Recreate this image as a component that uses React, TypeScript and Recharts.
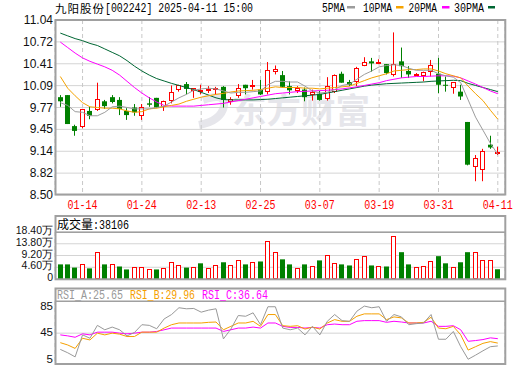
import React from 'react';
import { ComposedChart, Bar, Line, XAxis, YAxis, CartesianGrid, ReferenceLine } from 'recharts';

// trading days shown (MM-DD)
const dates = [
  '01-09', '01-10', '01-13', '01-14', '01-15', '01-16', '01-17', '01-20', '01-21', '01-22',
  '01-23', '01-24', '01-27', '02-05', '02-06', '02-07', '02-10', '02-11', '02-12', '02-13',
  '02-14', '02-17', '02-18', '02-19', '02-20', '02-21', '02-24', '02-25', '02-26', '02-27',
  '02-28', '03-03', '03-04', '03-05', '03-06', '03-07', '03-10', '03-11', '03-12', '03-13',
  '03-14', '03-17', '03-18', '03-19', '03-20', '03-21', '03-24', '03-25', '03-26', '03-27',
  '03-28', '03-31', '04-01', '04-02', '04-03', '04-07', '04-08', '04-09', '04-10', '04-11',
];

const opens = [
  9.92, 9.95, 9.5, 9.49, 9.72, 9.74, 9.86, 9.92, 9.88, 9.72,
  9.77, 9.65, 9.83, 9.91, 9.78, 9.87, 10.02, 10.11, 10.01, 10.02,
  10.01, 10.02, 10.07, 9.85, 9.93, 10.1, 10.09, 10.03, 10.0, 10.28,
  10.24, 10.08, 10.01, 10.03, 9.95, 9.97, 9.89, 10.0, 10.26, 10.14,
  10.14, 10.37, 10.44, 10.42, 10.4, 10.24, 10.44, 10.3, 10.25, 10.22,
  10.28, 10.26, 10.1, 10.05, 10.0, 9.56, 8.91, 8.86, 9.23, 9.12,
];
const highs = [
  9.95, 9.95, 9.52, 9.75, 9.78, 10.13, 9.88, 9.95, 9.92, 9.76,
  9.82, 9.82, 9.92, 9.91, 9.87, 10.09, 10.1, 10.14, 10.05, 10.1,
  10.08, 10.07, 10.08, 9.92, 10.11, 10.1, 10.17, 10.17, 10.43, 10.38,
  10.3, 10.15, 10.08, 10.06, 10.03, 10.01, 10.21, 10.25, 10.29, 10.17,
  10.36, 10.5, 10.49, 10.47, 10.4, 10.86, 10.64, 10.37, 10.27, 10.29,
  10.46, 10.49, 10.22, 10.14, 10.1, 9.56, 9.08, 9.17, 9.36, 9.2,
];
const lows = [
  9.78, 9.53, 9.36, 9.47, 9.6, 9.72, 9.75, 9.83, 9.66, 9.59,
  9.65, 9.59, 9.78, 9.76, 9.72, 9.83, 10.0, 9.96, 9.91, 9.96,
  9.98, 9.96, 9.77, 9.81, 9.91, 9.96, 10.03, 9.95, 9.96, 10.25,
  10.06, 9.96, 9.98, 9.86, 9.87, 9.87, 9.87, 9.98, 10.13, 10.08,
  10.08, 10.37, 10.29, 10.4, 10.25, 10.22, 10.2, 10.2, 10.23, 10.15,
  10.22, 9.98, 10.0, 9.97, 9.88, 8.93, 8.7, 8.7, 9.17, 9.08,
];
const closes = [
  9.86, 9.53, 9.43, 9.75, 9.65, 9.89, 9.79, 9.85, 9.75, 9.66,
  9.7, 9.78, 9.81, 9.77, 9.87, 10.0, 10.09, 10.04, 10.05, 10.03,
  10.04, 10.05, 9.88, 9.9, 10.06, 10.05, 10.1, 9.96, 10.31, 10.33,
  10.07, 10.02, 10.05, 9.92, 10.0, 9.88, 10.08, 10.24, 10.13, 10.1,
  10.34, 10.43, 10.41, 10.43, 10.27, 10.4, 10.37, 10.25, 10.26, 10.29,
  10.39, 10.1, 10.09, 10.14, 9.93, 8.94, 9.04, 9.14, 9.19, 9.13,
];

// volume in lots (手)
const volumes = [
  57200, 57200, 44700, 59800, 41600, 107600, 57200, 59800, 48900, 37400,
  47800, 47800, 37400, 37400, 41600, 67600, 53000, 44700, 48900, 61400,
  43700, 56200, 65500, 56200, 75900, 57200, 66600, 68600, 147700, 104000,
  77000, 57200, 43700, 57200, 52000, 72800, 95700, 63400, 57200, 53000,
  80100, 91500, 53000, 52000, 48900, 167400, 105000, 57200, 47800, 52000,
  68600, 89400, 61400, 47800, 65500, 105000, 107600, 75900, 75900, 38106,
];

const ma5 = [
  9.84, 9.8, 9.71, 9.7, 9.65, 9.65, 9.7, 9.78, 9.79, 9.77,
  9.75, 9.75, 9.75, 9.77, 9.79, 9.85, 9.91, 9.96, 10.02, 10.04,
  10.05, 10.04, 10.01, 9.98, 9.99, 9.99, 10.0, 10.01, 10.1, 10.15,
  10.15, 10.14, 10.14, 10.08, 10.01, 9.98, 9.99, 10.03, 10.09, 10.11,
  10.18, 10.25, 10.3, 10.36, 10.38, 10.39, 10.38, 10.34, 10.31, 10.31,
  10.31, 10.26, 10.23, 10.21, 10.13, 9.88, 9.63, 9.44, 9.25, 9.09,
];
const ma10 = [
  10.22, 10.05, 9.94, 9.84, 9.78, 9.77, 9.76, 9.76, 9.75, 9.72,
  9.7, 9.71, 9.75, 9.76, 9.78, 9.8, 9.82, 9.86, 9.89, 9.92,
  9.94, 9.96, 9.975, 9.995, 10.01, 10.015, 10.02, 10.03, 10.05, 10.07,
  10.06, 10.06, 10.06, 10.05, 10.05, 10.04, 10.05, 10.06, 10.07, 10.08,
  10.12, 10.16, 10.2, 10.23, 10.26, 10.3, 10.31, 10.32, 10.32, 10.33,
  10.33, 10.3, 10.26, 10.23, 10.2, 10.08, 9.97, 9.87, 9.73, 9.6,
];
const ma20 = [
  10.72, 10.64, 10.56, 10.49, 10.44, 10.4, 10.36, 10.31, 10.24, 10.15,
  10.06, 9.98, 9.91, 9.85, 9.8, 9.79, 9.79, 9.79, 9.79, 9.8,
  9.81, 9.82, 9.83, 9.85, 9.87, 9.89, 9.91, 9.93, 9.95, 9.97,
  9.98, 9.99, 10.0, 10.005, 10.01, 10.015, 10.02, 10.03, 10.04, 10.055,
  10.07, 10.09, 10.11, 10.13, 10.16, 10.18, 10.2, 10.21, 10.22, 10.22,
  10.225, 10.23, 10.23, 10.225, 10.2, 10.155, 10.11, 10.06, 10.01, 9.97,
];
const ma30 = [
  10.85, 10.81, 10.77, 10.74, 10.7, 10.67, 10.62, 10.57, 10.52, 10.45,
  10.37, 10.3, 10.24, 10.19, 10.155, 10.12, 10.09, 10.06, 10.03, 9.99,
  9.95, 9.91, 9.885, 9.88, 9.88, 9.88, 9.88, 9.885, 9.89, 9.9,
  9.91, 9.92, 9.93, 9.94, 9.95, 9.96, 9.98, 10.0, 10.02, 10.04,
  10.06, 10.08, 10.095, 10.105, 10.115, 10.12, 10.125, 10.13, 10.135, 10.14,
  10.15, 10.155, 10.16, 10.165, 10.16, 10.12, 10.09, 10.06, 10.03, 10.0,
];

const rsiA = [
  20.4, 15.3, 9.1, 42.4, 37.3, 56.8, 50.1, 54.2, 50.1, 40.9,
  46.0, 57.8, 56.8, 51.7, 66.5, 73.2, 83.5, 81.9, 82.4, 76.8,
  79.9, 81.9, 36.3, 51.2, 71.7, 70.6, 75.8, 57.8, 85.0, 85.0,
  52.7, 50.1, 52.7, 42.4, 55.3, 42.4, 62.9, 73.2, 64.0, 62.9,
  78.3, 86.0, 83.5, 85.0, 62.9, 73.2, 69.6, 57.8, 59.4, 60.4,
  73.2, 35.8, 35.8, 47.6, 24.5, 5.5, 11.7, 18.3, 24.5, 25.65,
];
const rsiB = [
  30.6, 27.1, 21.9, 37.3, 34.7, 45.0, 42.4, 45.0, 43.5, 39.9,
  39.9, 46.5, 46.5, 46.5, 52.7, 57.8, 60.4, 60.4, 60.4, 60.4,
  61.4, 61.9, 50.1, 55.3, 60.4, 60.4, 62.9, 55.3, 73.2, 73.2,
  56.3, 55.3, 56.3, 51.2, 54.2, 51.2, 60.4, 65.5, 62.9, 62.9,
  70.6, 74.2, 74.2, 74.2, 65.5, 69.6, 68.1, 60.4, 60.4, 61.4,
  69.1, 52.7, 51.7, 55.3, 42.4, 19.4, 24.5, 29.6, 32.2, 29.96,
];
const rsiC = [
  42.4, 40.9, 38.8, 44.0, 42.4, 46.5, 46.5, 46.5, 45.0, 44.0,
  45.0, 46.5, 46.5, 47.6, 50.1, 52.7, 52.7, 52.7, 52.7, 52.7,
  52.7, 52.7, 47.6, 50.1, 52.7, 52.7, 54.2, 52.7, 60.4, 60.4,
  55.3, 53.7, 53.7, 52.7, 53.7, 52.7, 57.8, 58.8, 57.8, 57.8,
  63.0, 64.0, 64.0, 64.0, 61.4, 63.0, 61.9, 60.4, 60.4, 60.4,
  63.0, 55.3, 55.3, 56.3, 50.1, 32.7, 33.8, 35.3, 37.9, 36.64,
];

const dateTicks = [3, 11, 19, 27, 35, 43, 51, 59];
const priceTicks = [8.5, 8.8175, 9.135, 9.4525, 9.77, 10.0875, 10.405, 10.7225, 11.04];
const priceLabels = ['8.50', '8.82', '9.14', '9.45', '9.77', '10.09', '10.41', '10.72', '11.04'];
const volTicks = [0, 46000, 92000, 138000, 184000];
const volLabels = ['0', '4.60万', '9.20万', '13.80万', '18.40万'];
const rsiTicks = [5, 45, 85];

const RED = '#ff0000';
const GREEN = '#008000';
const FRAME = '#a0a0a0';
const GRID = '#d4d4d4';
const C_MA5 = '#9c9c9c';
const C_MA10 = '#f5a300';
const C_MA20 = '#ff00ff';
const C_MA30 = '#006633';
const SANS = "'Liberation Sans', Arial, sans-serif";
const MONO = "'Liberation Mono', monospace";
const CJK = "'Noto Sans CJK SC', sans-serif";

const xDomain: [number, number] = [-0.715, 59.97];

const rows = dates.map((date, i) => ({
  i,
  date,
  open: opens[i],
  high: highs[i],
  low: lows[i],
  close: closes[i],
  range: [lows[i], highs[i]],
  vol: volumes[i],
  volUp: i === 0 ? closes[i] >= opens[i] : closes[i] >= closes[i - 1],
  ma5: ma5[i],
  ma10: ma10[i],
  ma20: ma20[i],
  ma30: ma30[i],
  rsiA: rsiA[i],
  rsiB: rsiB[i],
  rsiC: rsiC[i],
}));

const Candle = (props: any) => {
  const { x, y, width, height, index } = props;
  const d = props.payload || rows[index];
  if (!d || x == null || y == null) return null;
  const top = Math.min(y, y + height);
  const bot = Math.max(y, y + height);
  const span = d.high - d.low || 1;
  const py = (v: number) => top + ((d.high - v) / span) * (bot - top);
  const cx = Math.floor(x + width / 2) + 0.5;
  const up = d.close >= d.open;
  const bt = py(Math.max(d.open, d.close));
  const bb = py(Math.min(d.open, d.close));
  if (up) {
    const rt = Math.round(bt) + 0.5;
    const rb = Math.max(Math.round(bb) - 0.5, rt + 1);
    return (
      <g>
        <line x1={cx} x2={cx} y1={top} y2={rt} stroke={RED} />
        <line x1={cx} x2={cx} y1={rb} y2={bot} stroke={RED} />
        <rect x={cx - 2} y={rt} width={4} height={rb - rt} fill="#fff" stroke={RED} />
      </g>
    );
  }
  return (
    <g>
      <line x1={cx} x2={cx} y1={top} y2={bot} stroke={GREEN} />
      <rect x={cx - 2.5} y={bt} width={5} height={Math.max(bb - bt, 1)} fill={GREEN} />
    </g>
  );
};

const VolBar = (props: any) => {
  const { x, y, width, height, index } = props;
  const d = props.payload || rows[index];
  if (!d || x == null || y == null) return null;
  const top = Math.min(y, y + height);
  const bot = Math.max(y, y + height);
  const left = Math.floor(x + width / 2) - 2;
  if (d.volUp) {
    const t = Math.round(top) + 0.5;
    return <rect x={left + 0.5} y={t} width={4} height={Math.max(bot - t - 0.5, 1)} fill="#fff" stroke={RED} />;
  }
  return <rect x={left} y={top} width={5} height={bot - top} fill={GREEN} />;
};

const DateTick = (p: any) => (
  <text x={p.x} y={209} textAnchor="middle" fontFamily={MONO} fontSize={12} fill={RED}
    textLength={30} lengthAdjust="spacingAndGlyphs">
    {dates[p.payload.value]}
  </text>
);

const PriceTick = (p: any) => (
  <text x={53} y={p.y + 4} textAnchor="end" fontFamily={SANS} fontSize={12} fill="#111">
    {priceLabels[priceTicks.indexOf(p.payload.value)]}
  </text>
);

const VolTick = (p: any) => (
  <text x={53} y={p.y + 2} textAnchor="end" fontFamily={SANS} fontSize={10.5} fill="#111">
    {volLabels[volTicks.indexOf(p.payload.value)]}
  </text>
);

const RsiTick = (p: any) => (
  <text x={53} y={p.y + 3} textAnchor="end" fontFamily={SANS} fontSize={11.5} fill="#111">
    {p.payload.value}
  </text>
);

const maLine = (key: string, color: string) => (
  <Line key={key} type="linear" dataKey={key} stroke={color} strokeWidth={1} dot={false}
    activeDot={false} isAnimationActive={false} />
);

export default function App() {
  return (
    <div style={{ position: 'absolute', left: 0, top: 0, width: 520, height: 365, background: '#fff', overflow: 'hidden' }}>
      {/* watermark behind the candles */}
      <svg width={520} height={365} style={{ position: 'absolute', left: 0, top: 0 }}>
        <path d="M203 100 Q226 92 224 106 Q221 121 199 125" fill="none" stroke="#e6e6eb" strokeWidth={8} />
        <text x={232} y={123} fontFamily={CJK} fontWeight={700} fontSize={34} fill="#e6e6eb"
          textLength={138} lengthAdjust="spacingAndGlyphs">东方财富</text>
      </svg>

      <div style={{ position: 'absolute', left: 0, top: 0 }}>
        <ComposedChart width={520} height={215} data={rows} margin={{ top: 20, right: 15, bottom: 0, left: 0 }}>
          <CartesianGrid vertical={false} stroke={GRID} />
          <CartesianGrid horizontal={false} stroke="#c8c8c8" strokeDasharray="4 3" />
          <XAxis type="number" dataKey="i" domain={xDomain} ticks={dateTicks} interval={0} allowDataOverflow
            height={20} axisLine={false} tickLine={false} tick={DateTick} />
          <YAxis domain={[8.5, 11.04]} ticks={priceTicks} interval={0} allowDataOverflow width={55}
            axisLine={false} tickLine={false} tick={PriceTick} />
          <Bar dataKey="range" barSize={5} shape={Candle} isAnimationActive={false} />
          {maLine('ma30', C_MA30)}
          {maLine('ma20', C_MA20)}
          {maLine('ma10', C_MA10)}
          {maLine('ma5', C_MA5)}
        </ComposedChart>
      </div>

      <div style={{ position: 'absolute', left: 0, top: 216 }}>
        <ComposedChart width={520} height={70} data={rows} margin={{ top: 16, right: 15, bottom: 7, left: 0 }}>
          <CartesianGrid vertical={false} stroke={GRID} />
          <CartesianGrid horizontal={false} stroke="#c8c8c8" strokeDasharray="4 3" />
          <XAxis type="number" dataKey="i" domain={xDomain} ticks={dateTicks} interval={0} allowDataOverflow
            height={0} axisLine={false} tickLine={false} tick={false} />
          <YAxis domain={[0, 184000]} ticks={volTicks} interval={0} allowDataOverflow width={55}
            axisLine={false} tickLine={false} tick={VolTick} />
          <Bar dataKey="vol" barSize={5} shape={VolBar} isAnimationActive={false} />
        </ComposedChart>
      </div>

      <div style={{ position: 'absolute', left: 0, top: 288 }}>
        <ComposedChart width={520} height={77} data={rows} margin={{ top: 13, right: 15, bottom: 1, left: 0 }}>
          <CartesianGrid horizontal={false} stroke="#c8c8c8" strokeDasharray="4 3" />
          <XAxis type="number" dataKey="i" domain={xDomain} ticks={dateTicks} interval={0} allowDataOverflow
            height={0} axisLine={false} tickLine={false} tick={false} />
          <YAxis domain={[-1.7, 93.7]} ticks={rsiTicks} interval={0} allowDataOverflow width={55}
            axisLine={false} tickLine={false} tick={RsiTick} />
          <ReferenceLine y={45} stroke={GRID} />
          {maLine('rsiC', '#ff00ff')}
          {maLine('rsiB', '#f5a000')}
          {maLine('rsiA', '#999999')}
        </ComposedChart>
      </div>

      {/* frames, title, legend, pane headers */}
      <svg width={520} height={365} style={{ position: 'absolute', left: 0, top: 0, pointerEvents: 'none' }}>
        <text x={55} y={12.5} fontFamily={CJK} fontSize={11.5} fill="#000" textLength={49}>九阳股份</text>
        <text x={105} y={12} fontFamily={MONO} fontSize={12} fill="#000" textLength={148}
          lengthAdjust="spacingAndGlyphs">[002242] 2025-04-11 15:00</text>

        <text x={322} y={12} fontFamily={MONO} fontSize={12} fill="#000" textLength={23} lengthAdjust="spacingAndGlyphs">5PMA</text>
        <rect x={347} y={6} width={8} height={2.5} fill={C_MA5} />
        <text x={363} y={12} fontFamily={MONO} fontSize={12} fill="#000" textLength={29} lengthAdjust="spacingAndGlyphs">10PMA</text>
        <rect x={396} y={6} width={7.5} height={2.5} fill={C_MA10} />
        <text x={408.5} y={12} fontFamily={MONO} fontSize={12} fill="#000" textLength={28.5} lengthAdjust="spacingAndGlyphs">20PMA</text>
        <rect x={442} y={6} width={7.5} height={2.5} fill={C_MA20} />
        <text x={454} y={12} fontFamily={MONO} fontSize={12} fill="#000" textLength={30} lengthAdjust="spacingAndGlyphs">30PMA</text>
        <rect x={488} y={6} width={7} height={2.5} fill={C_MA30} />

        <rect x={55.5} y={20} width={449.8} height={174.5} fill="none" stroke={FRAME} strokeWidth={2} />

        <rect x={55.5} y={216} width={449.8} height={63.3} fill="none" stroke={FRAME} strokeWidth={2} />
        <line x1={55.5} x2={505.3} y1={232.3} y2={232.3} stroke={FRAME} strokeWidth={1.5} />
        <text x={57} y={229} fontFamily={CJK} fontSize={12} fill="#000">成交量</text>
        <text x={93} y={229} fontFamily={MONO} fontSize={12} fill="#000" textLength={36} lengthAdjust="spacingAndGlyphs">:38106</text>

        <rect x={55.5} y={288.5} width={449.8} height={75.5} fill="none" stroke={FRAME} strokeWidth={2} />
        <line x1={55.5} x2={505.3} y1={301.3} y2={301.3} stroke={FRAME} strokeWidth={1.5} />
        <text x={57} y={299} fontFamily={MONO} fontSize={12} fill="#999999" textLength={66} lengthAdjust="spacingAndGlyphs">RSI_A:25.65</text>
        <text x={130} y={299} fontFamily={MONO} fontSize={12} fill="#f5a000" textLength={65} lengthAdjust="spacingAndGlyphs">RSI_B:29.96</text>
        <text x={202} y={299} fontFamily={MONO} fontSize={12} fill="#ff00ff" textLength={66} lengthAdjust="spacingAndGlyphs">RSI_C:36.64</text>
      </svg>
    </div>
  );
}
